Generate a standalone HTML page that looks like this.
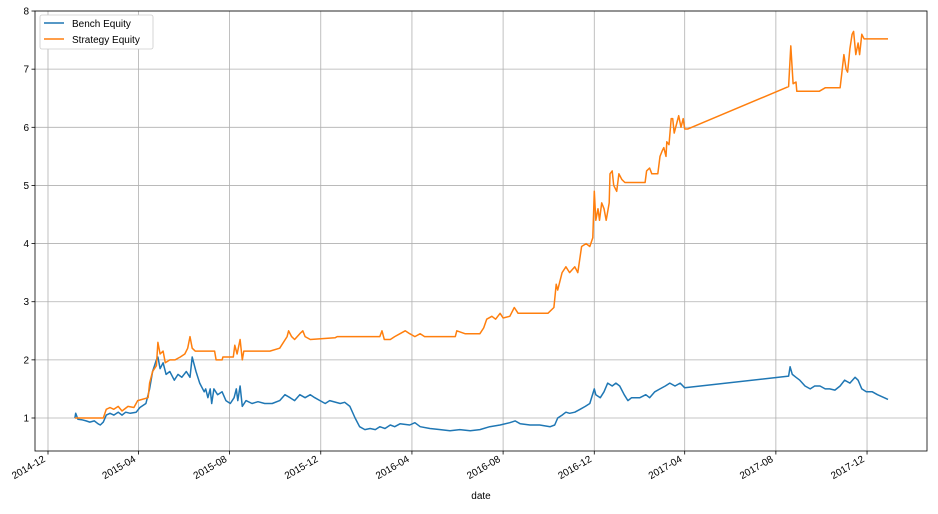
<!DOCTYPE html>
<html><head><meta charset="utf-8"><style>
body{margin:0;background:#fff;width:938px;height:509px;overflow:hidden}
text{font-family:"Liberation Sans",sans-serif;font-size:10px;fill:#000}
</style></head><body>
<svg id="chart" width="938" height="509" xmlns="http://www.w3.org/2000/svg"></svg>
<script>
const yTicks=[1,2,3,4,5,6,7,8];
const xTickLabels=["2014-12","2015-04","2015-08","2015-12","2016-04","2016-08","2016-12","2017-04","2017-08","2017-12"];
const xTickDays=[0,121,243,365,487,609,731,852,974,1096];
const stratDays=[36,74,78,83,88,94,99,107,115,120,126,134,136,140,145,147,150,154,157,163,170,177,183,187,190,193,197,223,225,233,234,248,250,253,257,260,262,297,310,320,322,326,330,337,341,344,351,384,387,444,447,450,458,464,471,478,484,491,498,504,545,547,558,578,583,587,594,599,605,609,618,624,629,669,677,680,682,688,693,698,705,709,714,720,725,729,731,733,736,738,741,744,747,751,752,755,757,761,764,768,772,799,801,805,808,816,819,822,824,827,828,831,834,836,838,842,844,847,850,852,856,991,994,997,1001,1002,1032,1040,1060,1062,1065,1068,1070,1073,1076,1078,1081,1084,1086,1089,1092,1124];
const stratVals=[1.0,1.0,1.15,1.18,1.15,1.2,1.12,1.2,1.18,1.3,1.32,1.35,1.6,1.8,1.9,2.3,2.1,2.15,1.95,2.0,2.0,2.05,2.1,2.2,2.4,2.2,2.15,2.15,2.0,2.0,2.05,2.05,2.25,2.1,2.35,2.0,2.15,2.15,2.2,2.4,2.5,2.4,2.35,2.45,2.5,2.4,2.35,2.38,2.4,2.4,2.5,2.35,2.35,2.4,2.45,2.5,2.45,2.4,2.45,2.4,2.4,2.5,2.45,2.45,2.55,2.7,2.75,2.7,2.8,2.72,2.75,2.9,2.8,2.8,2.9,3.3,3.2,3.5,3.6,3.5,3.6,3.5,3.95,4.0,3.95,4.1,4.9,4.4,4.6,4.4,4.7,4.6,4.4,4.7,5.2,5.25,5.0,4.9,5.2,5.1,5.05,5.05,5.25,5.3,5.2,5.2,5.5,5.6,5.65,5.5,5.75,5.7,6.15,6.15,5.9,6.1,6.2,6.0,6.15,5.97,5.97,6.7,7.4,6.75,6.78,6.62,6.62,6.68,6.68,6.9,7.25,7.0,6.95,7.35,7.6,7.65,7.25,7.45,7.25,7.6,7.52,7.52];
const benchDays=[36,37,40,45,51,56,62,67,70,74,78,83,88,94,99,104,110,118,123,131,136,140,145,147,150,154,158,163,169,174,179,185,190,193,195,198,203,209,211,214,217,219,222,227,233,238,244,249,252,254,257,260,265,273,281,290,300,310,317,324,330,337,344,351,357,364,371,377,391,397,404,411,417,424,431,438,444,451,458,464,471,484,491,498,511,525,538,551,565,578,591,605,618,625,632,645,658,672,678,682,688,693,698,705,712,719,725,731,733,739,744,749,755,760,765,771,776,781,792,800,805,812,819,826,832,839,846,852,991,993,996,1001,1006,1013,1020,1026,1033,1040,1046,1053,1060,1066,1073,1080,1084,1089,1095,1103,1110,1119,1124];
const benchVals=[1.0,1.08,0.98,0.97,0.95,0.93,0.95,0.9,0.88,0.93,1.05,1.08,1.05,1.1,1.05,1.1,1.08,1.1,1.18,1.25,1.5,1.8,2.0,2.05,1.85,1.95,1.75,1.8,1.65,1.75,1.7,1.8,1.7,2.05,1.95,1.8,1.6,1.45,1.5,1.35,1.5,1.25,1.5,1.4,1.45,1.3,1.25,1.35,1.5,1.3,1.55,1.2,1.3,1.25,1.28,1.25,1.25,1.3,1.4,1.35,1.3,1.4,1.35,1.4,1.35,1.3,1.25,1.3,1.25,1.27,1.2,1.0,0.85,0.8,0.82,0.8,0.85,0.82,0.88,0.85,0.9,0.88,0.92,0.85,0.82,0.8,0.78,0.8,0.78,0.8,0.85,0.88,0.92,0.95,0.9,0.88,0.88,0.85,0.88,1.0,1.05,1.1,1.08,1.1,1.15,1.2,1.25,1.5,1.4,1.35,1.45,1.6,1.55,1.6,1.55,1.4,1.3,1.35,1.35,1.4,1.35,1.45,1.5,1.55,1.6,1.55,1.6,1.52,1.72,1.88,1.75,1.7,1.65,1.55,1.5,1.55,1.55,1.5,1.5,1.48,1.55,1.65,1.6,1.7,1.65,1.5,1.45,1.45,1.4,1.35,1.32];

const NS="http://www.w3.org/2000/svg";
const svg=document.getElementById('chart');
const L=35,R=927,T=11,B=451;
const X=d=>48+d*0.7473;
const Y=v=>418-(v-1)*58.14;
function mk(tag,attrs,parent){const e=document.createElementNS(NS,tag);for(const k in attrs)e.setAttribute(k,attrs[k]);(parent||svg).appendChild(e);return e;}
yTicks.forEach(v=>{
  const g=mk('line',{x1:L,x2:R,y1:Y(v),y2:Y(v),stroke:'#b0b0b0','stroke-width':0.8});
  
  
  mk('line',{x1:L-3.5,x2:L,y1:Y(v),y2:Y(v),stroke:'#000','stroke-width':0.8});
  const t=mk('text',{x:L-6,y:Y(v)+3.5,'text-anchor':'end'});t.textContent=v;
  
  
});
xTickDays.forEach((d,i)=>{
  const g=mk('line',{x1:X(d),x2:X(d),y1:T,y2:B,stroke:'#b0b0b0','stroke-width':0.8});
  
  
  mk('line',{x1:X(d),x2:X(d),y1:B,y2:B+3.5,stroke:'#000','stroke-width':0.8});
  const tx=X(d)-2, ty=B+10;
  const t=mk('text',{x:tx,y:ty,'text-anchor':'end',transform:`rotate(-30 ${tx} ${ty})`});
  t.textContent=xTickLabels[i];
  
  
});
function line(days,vals,color,name){
  const p=mk('polyline',{points:days.map((d,i)=>X(d).toFixed(1)+','+Y(vals[i]).toFixed(1)).join(' '),fill:'none',stroke:color,'stroke-width':1.5,'stroke-linejoin':'round'});
  
  
}
line(benchDays,benchVals,'#1f77b4','bench-equity-line');
line(stratDays,stratVals,'#ff7f0e','strategy-equity-line');
const fr=mk('rect',{x:L,y:T,width:R-L,height:B-T,fill:'none',stroke:'#000','stroke-width':0.8});


const xl=mk('text',{x:481,y:499,'text-anchor':'middle'});xl.textContent='date';


const lg=mk('g',{});


mk('rect',{x:40,y:15,width:113,height:34,rx:2,fill:'#fff',stroke:'#ccc','stroke-width':0.8},lg);
[['Bench Equity','#1f77b4'],['Strategy Equity','#ff7f0e']].forEach((e,i)=>{
  const g=mk('g',{},lg);
  
  
  mk('line',{x1:44,x2:64,y1:23+i*16,y2:23+i*16,stroke:e[1],'stroke-width':1.5},g);
  const t=mk('text',{x:72,y:27+i*16},g);t.textContent=e[0];
});
</script>
</body></html>
